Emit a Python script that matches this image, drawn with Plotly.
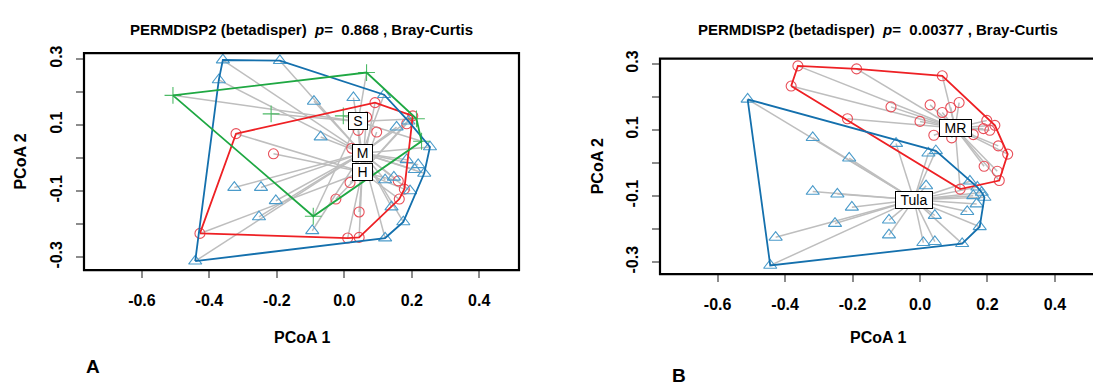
import plotly.graph_objects as go

W, H = 1093, 385
FONT = "Liberation Sans, Arial, Helvetica, sans-serif"

# ---------------- Panel A data (PCoA 1, PCoA 2) ----------------
a_H_x = [-0.321, -0.210, -0.428, 0.091, 0.066, 0.041, 0.096, 0.203, 0.185, 0.022,
         0.017, -0.025, 0.044, 0.010, 0.044, 0.160, 0.178, 0.163]
a_H_y = [0.074, 0.013, -0.228, 0.168, 0.124, 0.084, 0.079, 0.128, 0.104, 0.030,
         -0.074, -0.124, -0.163, -0.242, -0.240, -0.069, -0.094, -0.124]

a_M_x = [-0.360, -0.191, -0.372, -0.090, -0.326, -0.247, -0.203, -0.253, -0.442, -0.095,
         0.027, 0.118, -0.070, 0.155, 0.190, 0.254, 0.185, 0.219, 0.237, 0.209,
         0.121, 0.147, 0.195, 0.140, 0.175, 0.121]
a_M_y = [0.297, 0.295, 0.237, 0.172, -0.089, -0.089, -0.129, -0.178, -0.312, -0.220,
         0.183, 0.192, 0.064, 0.094, 0.112, 0.034, -0.005, -0.020, -0.046, -0.035,
         -0.066, -0.058, -0.099, -0.148, -0.193, -0.242]

a_S_x = [-0.508, -0.217, -0.003, 0.066, 0.214, 0.229, -0.092]
a_S_y = [0.190, 0.134, 0.128, 0.259, 0.119, 0.051, -0.176]

a_groups = ["H", "M", "S"]
a_cent_x = [0.053, 0.053, 0.041]
a_cent_y = [-0.042, 0.015, 0.111]

# ---------------- Panel B data ----------------
b_MR_x = [-0.362, -0.382, -0.188, 0.066, -0.086, -0.215, 0.000, 0.030, 0.066, 0.091,
          0.116, 0.041, 0.094, 0.158, 0.188, 0.198, 0.222, 0.207, 0.232, 0.260,
          0.190, 0.229, 0.235, 0.119]
b_MR_y = [0.294, 0.233, 0.285, 0.264, 0.170, 0.134, 0.126, 0.176, 0.153, 0.168,
          0.183, 0.084, 0.076, 0.086, 0.104, 0.129, 0.114, 0.099, 0.052, 0.027,
          -0.010, -0.025, -0.053, -0.079]

b_Tula_x = [-0.511, -0.318, -0.210, -0.071, 0.025, 0.047, -0.318, -0.245, -0.202, -0.252,
            -0.092, -0.092, 0.018, 0.010, 0.044, 0.125, 0.044, 0.140, 0.177, 0.148,
            0.170, 0.183, 0.191, 0.158, 0.168, -0.428, -0.444]
b_Tula_y = [0.193, 0.077, 0.015, 0.059, 0.030, 0.037, -0.086, -0.094, -0.134, -0.183,
            -0.173, -0.218, -0.069, -0.241, -0.238, -0.244, -0.159, -0.147, -0.193, -0.055,
            -0.073, -0.089, -0.104, -0.099, -0.124, -0.225, -0.310]

b_groups = ["MR", "Tula"]
b_cent_x = [0.104, -0.018]
b_cent_y = [0.106, -0.111]

titles = ["<b>PERMDISP2 (betadisper)  <i>p</i>=  0.868 , Bray-Curtis</b>",
          "<b>PERMDISP2 (betadisper)  <i>p</i>=  0.00377 , Bray-Curtis</b>"]
x_ticks = [-0.6, -0.4, -0.2, 0.0, 0.2, 0.4]
x_ticktext = ["-0.6", "-0.4", "-0.2", "0.0", "0.2", "0.4"]
y_ticks = [-0.3, -0.2, -0.1, 0.0, 0.1, 0.2, 0.3]
y_ticktext = ["-0.3", "", "-0.1", "", "0.1", "", "0.3"]

# ---------------- styles ----------------
RED_L, RED_P = "#EE2024", "#E8505A"
BLUE_L, BLUE_P = "#1470AD", "#4B9BCA"
GREEN_L, GREEN_P = "#1FA843", "#4DBA66"
GRAY = "#BEBEBE"


def hull(xs, ys):
    pts = sorted(set(zip(xs, ys)))
    def cross(o, a, b):
        return (a[0] - o[0]) * (b[1] - o[1]) - (a[1] - o[1]) * (b[0] - o[0])
    lower, upper = [], []
    for p in pts:
        while len(lower) >= 2 and cross(lower[-2], lower[-1], p) <= 0:
            lower.pop()
        lower.append(p)
    for p in reversed(pts):
        while len(upper) >= 2 and cross(upper[-2], upper[-1], p) <= 0:
            upper.pop()
        upper.append(p)
    h = lower[:-1] + upper[:-1]
    h.append(h[0])
    return [p[0] for p in h], [p[1] for p in h]


def spokes(xs, ys, cx, cy):
    sx, sy = [], []
    for x, y in zip(xs, ys):
        sx += [x, cx, None]
        sy += [y, cy, None]
    return sx, sy


fig = go.Figure()

panelA = [(a_H_x, a_H_y, 0, "circle-open", 10, RED_P, RED_L),
          (a_M_x, a_M_y, 1, "triangle-up-open", 11.5, BLUE_P, BLUE_L),
          (a_S_x, a_S_y, 2, "cross-thin-open", 12, GREEN_P, GREEN_L)]
panelB = [(b_MR_x, b_MR_y, 0, "circle-open", 10, RED_P, RED_L),
          (b_Tula_x, b_Tula_y, 1, "triangle-up-open", 11.5, BLUE_P, BLUE_L)]

for panel, cxs, cys, xa, ya in [(panelA, a_cent_x, a_cent_y, "x", "y"),
                                (panelB, b_cent_x, b_cent_y, "x2", "y2")]:
    for xs, ys, gi, sym, sz, pc, lc in panel:
        sx, sy = spokes(xs, ys, cxs[gi], cys[gi])
        fig.add_trace(go.Scatter(x=sx, y=sy, mode="lines", xaxis=xa, yaxis=ya,
                                 line=dict(color=GRAY, width=1.5), hoverinfo="skip",
                                 showlegend=False))
    for xs, ys, gi, sym, sz, pc, lc in panel:
        fig.add_trace(go.Scatter(x=xs, y=ys, mode="markers", xaxis=xa, yaxis=ya,
                                 marker=dict(symbol=sym, size=sz, color=pc,
                                             line=dict(color=pc, width=1.1)),
                                 showlegend=False))
    for xs, ys, gi, sym, sz, pc, lc in panel:
        hx, hy = hull(xs, ys)
        fig.add_trace(go.Scatter(x=hx, y=hy, mode="lines", xaxis=xa, yaxis=ya,
                                 line=dict(color=lc, width=1.8), hoverinfo="skip",
                                 showlegend=False))

# axes geometry (pixel based)
def px(x):
    return x / W

def py(y):
    return 1 - y / H

s = 337.3
axA = dict(left=84, right=519, top=46, bottom=267.7, x0=344.3, y0=153.3)
axB = dict(left=660, right=1093, top=51.7, bottom=271.7, x0=920, y0=158.3)

def xr(a):
    return [(a["left"] - a["x0"]) / s, (a["right"] - a["x0"]) / s]

def yr(a):
    return [(a["y0"] - a["bottom"]) / s, (a["y0"] - a["top"]) / s]

common_x = dict(showgrid=False, zeroline=False, showline=False, ticks="outside",
                ticklen=7, tickwidth=1.5, tickcolor="#8C8C8C",
                tickvals=x_ticks, ticktext=x_ticktext,
                tickfont=dict(family=FONT, size=16, color="black", weight="bold"),
                ticklabelstandoff=9)
common_y = dict(showgrid=False, zeroline=False, showline=False, ticks="outside",
                ticklen=7, tickwidth=1.5, tickcolor="#8C8C8C",
                tickvals=y_ticks, ticktext=y_ticktext, tickangle=-90,
                tickfont=dict(family=FONT, size=16, color="black", weight="bold"),
                ticklabelstandoff=8)

fig.update_layout(
    width=W, height=H, margin=dict(l=0, r=0, t=0, b=0),
    paper_bgcolor="white", plot_bgcolor="white",
    xaxis=dict(domain=[px(axA["left"]), px(axA["right"])], range=xr(axA), anchor="y", **common_x),
    yaxis=dict(domain=[py(axA["bottom"]), py(axA["top"])], range=yr(axA), anchor="x", **common_y),
    xaxis2=dict(domain=[px(axB["left"]), 1.0], range=xr(axB), anchor="y2", **common_x),
    yaxis2=dict(domain=[py(axB["bottom"]), py(axB["top"])], range=yr(axB), anchor="x2", **common_y),
)

# plot boxes
fig.add_shape(type="rect", xref="x domain", yref="y domain", x0=0, x1=1, y0=0, y1=1,
              line=dict(color="black", width=2.2), layer="above")
fig.add_shape(type="rect", xref="x2 domain", yref="y2 domain", x0=0, x1=1.02, y0=0, y1=1,
              line=dict(color="black", width=2.2), layer="above")

# centroid labels
label_w = {"H": 19, "M": 19, "S": 18, "MR": 31, "Tula": 36}
for names, cxs, cys, xa, ya in [(a_groups, a_cent_x, a_cent_y, "x", "y"),
                                (b_groups, b_cent_x, b_cent_y, "x2", "y2")]:
    for n, cx, cy in zip(names, cxs, cys):
        fig.add_annotation(x=cx, y=cy, xref=xa, yref=ya, text=n, showarrow=False,
                           font=dict(family=FONT, size=14, color="black"),
                           bgcolor="white", bordercolor="black", borderwidth=1,
                           borderpad=0, width=label_w[n], height=16,
                           xanchor="center", yanchor="middle")

# titles, axis labels, panel letters
for a, t in [(axA, titles[0]), (axB, titles[1])]:
    cx = (a["left"] + (a["right"] if a is axA else 1095)) / 2
    fig.add_annotation(x=px(cx), y=py(22), xref="paper", yref="paper", text=t,
                       showarrow=False, font=dict(family=FONT, size=15, color="black"),
                       xanchor="center", yanchor="middle")
    fig.add_annotation(x=px(cx), y=py(336), xref="paper", yref="paper", text="<b>PCoA 1</b>",
                       showarrow=False, font=dict(family=FONT, size=16, color="black"),
                       xanchor="center", yanchor="middle")
    fig.add_annotation(x=px(a["left"] - 63), y=py((a["top"] + a["bottom"]) / 2),
                       xref="paper", yref="paper", text="<b>PCoA 2</b>", textangle=-90,
                       showarrow=False, font=dict(family=FONT, size=16, color="black"),
                       xanchor="center", yanchor="middle")

fig.add_annotation(x=px(93), y=py(366), xref="paper", yref="paper", text="<b>A</b>",
                   showarrow=False, font=dict(family=FONT, size=19, color="black"),
                   xanchor="center", yanchor="middle")
fig.add_annotation(x=px(679), y=py(375), xref="paper", yref="paper", text="<b>B</b>",
                   showarrow=False, font=dict(family=FONT, size=19, color="black"),
                   xanchor="center", yanchor="middle")

post = ("document.body.style.margin='0';document.body.style.padding='0';"
        "document.body.style.overflow='hidden';"
        "var d=document.getElementById('{plot_id}');"
        "d.style.position='absolute';d.style.left='0px';d.style.top='0px';")
fig.write_html("out.html", post_script=post, config={"displayModeBar": False})
